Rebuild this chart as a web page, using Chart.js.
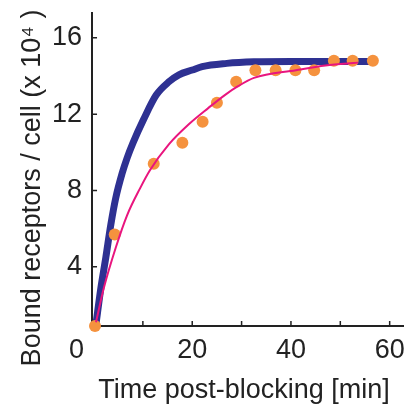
<!DOCTYPE html>
<html>
<head>
<meta charset="utf-8">
<script src="https://cdn.jsdelivr.net/npm/chart.js@4"></script>
<style>
  html, body { margin: 0; padding: 0; background: #fff; }
  #wrap { width: 409px; height: 405px; }
</style>
</head>
<body>
<div id="wrap"><canvas id="chart"></canvas></div>
<script>
// measured points (orange dots)
const dotTime  = [0.3, 4.3, 12.2, 18.0, 22.1, 25.0, 28.9, 32.8, 36.9, 40.9, 44.7, 48.7, 52.5, 56.6];
const dotValue = [0.9, 5.7, 9.4, 10.5, 11.6, 12.6, 13.7, 14.3, 14.3, 14.3, 14.3, 14.8, 14.8, 14.8];

// thick blue model curve
const blueTime  = [0.5, 1.5, 2.5, 3.5, 4.5, 5.8, 6.8, 8.0, 10.1, 12.7, 15.3, 17.3, 20.0, 22.0, 27.0, 32.5, 40.0, 48.0, 56.0];
const blueValue = [1.0, 2.9, 4.5, 6.2, 7.6, 8.9, 9.7, 10.5, 11.7, 13.0, 13.7, 14.06, 14.31, 14.49, 14.66, 14.74, 14.76, 14.76, 14.76];

// thin pink fit curve
const pinkTime  = [0.5, 2.1, 4.5, 6.8, 9.4, 11.4, 15.3, 19.3, 23.3, 26.6, 29.2, 32.5, 41.0, 47.0, 53.6];
const pinkValue = [1.1, 2.9, 5.0, 6.7, 8.1, 9.05, 10.43, 11.47, 12.33, 13.0, 13.45, 13.9, 14.3, 14.55, 14.7];

const xTicks = [0, 10, 20, 30, 40, 50, 60];
const xLabels = [20, 40, 60];
const yTicks = [4, 8, 12, 16];

const xTitle = 'Time post-blocking [min]';
const yTitle = 'Bound receptors / cell (x 10\u2074 )';

const axisColor = '#222';
const font = { family: 'Liberation Sans, Arial, sans-serif', size: 27, lineHeight: 1 };

const toXY = (xs, ys) => xs.map((t, i) => ({ x: t, y: ys[i] }));

// ticks point inwards, the "0" sits left of the origin, titles placed by hand
const axisExtras = {
    id: 'axisExtras',
    afterDraw(chart) {
        const { ctx, scales: { x, y } } = chart;
        ctx.save();
        ctx.strokeStyle = axisColor;
        ctx.lineWidth = 1.5;
        ctx.beginPath();
        xTicks.slice(1).forEach(v => {
            const px = x.getPixelForValue(v);
            ctx.moveTo(px, y.bottom);
            ctx.lineTo(px, y.bottom - 5);
        });
        yTicks.forEach(v => {
            const py = y.getPixelForValue(v);
            ctx.moveTo(x.left, py);
            ctx.lineTo(x.left + 5, py);
        });
        ctx.stroke();

        ctx.fillStyle = axisColor;
        ctx.font = font.size + 'px ' + font.family;
        ctx.textAlign = 'center';
        ctx.textBaseline = 'middle';
        ctx.fillText('0', x.getPixelForValue(0) - 17, x.top + 11 + font.size / 2);

        ctx.textBaseline = 'alphabetic';
        ctx.fillText(xTitle, 244, 398);
        ctx.translate(40, 188);
        ctx.rotate(-Math.PI / 2);
        ctx.fillText(yTitle, 0, 0);
        ctx.restore();
    }
};

const noPad = s => { s.paddingLeft = 0; s.paddingRight = 0; s.paddingTop = 0; s.paddingBottom = 0; };

new Chart(document.getElementById('chart'), {
    type: 'scatter',
    data: {
        datasets: [{
            label: 'model',
            type: 'line',
            data: toXY(blueTime, blueValue),
            borderColor: '#2E3192',
            borderWidth: 7,
            pointRadius: 0,
            cubicInterpolationMode: 'monotone',
            fill: false,
            order: 3
        }, {
            label: 'data',
            data: toXY(dotTime, dotValue),
            backgroundColor: '#F5923E',
            borderWidth: 0,
            pointRadius: 6,
            clip: false,
            order: 2
        }, {
            label: 'fit',
            type: 'line',
            data: toXY(pinkTime, pinkValue),
            borderColor: '#E9157E',
            borderWidth: 2,
            pointRadius: 0,
            cubicInterpolationMode: 'monotone',
            fill: false,
            order: 1
        }]
    },
    options: {
        responsive: true,
        maintainAspectRatio: false,
        animation: false,
        layout: { padding: { left: 42, top: 13, right: 0, bottom: 30 } },
        scales: {
            x: {
                type: 'linear',
                min: -0.3,
                max: 62.7,
                afterBuildTicks: s => { s.ticks = xTicks.map(v => ({ value: v })); },
                afterFit: noPad,
                ticks: {
                    color: axisColor,
                    font: font,
                    padding: 11,
                    maxRotation: 0,
                    autoSkip: false,
                    callback: v => xLabels.includes(v) ? String(v) : ''
                },
                grid: { display: false, drawTicks: false },
                border: { color: axisColor, width: 2 }
            },
            y: {
                min: 0.9,
                max: 17.3,
                afterBuildTicks: s => { s.ticks = yTicks.map(v => ({ value: v })); },
                afterFit: noPad,
                ticks: { color: axisColor, font: font, padding: 10 },
                grid: { display: false, drawTicks: false },
                border: { color: axisColor, width: 2 }
            }
        },
        plugins: {
            legend: { display: false },
            tooltip: { enabled: false }
        }
    },
    plugins: [axisExtras]
});
</script>
</body>
</html>
